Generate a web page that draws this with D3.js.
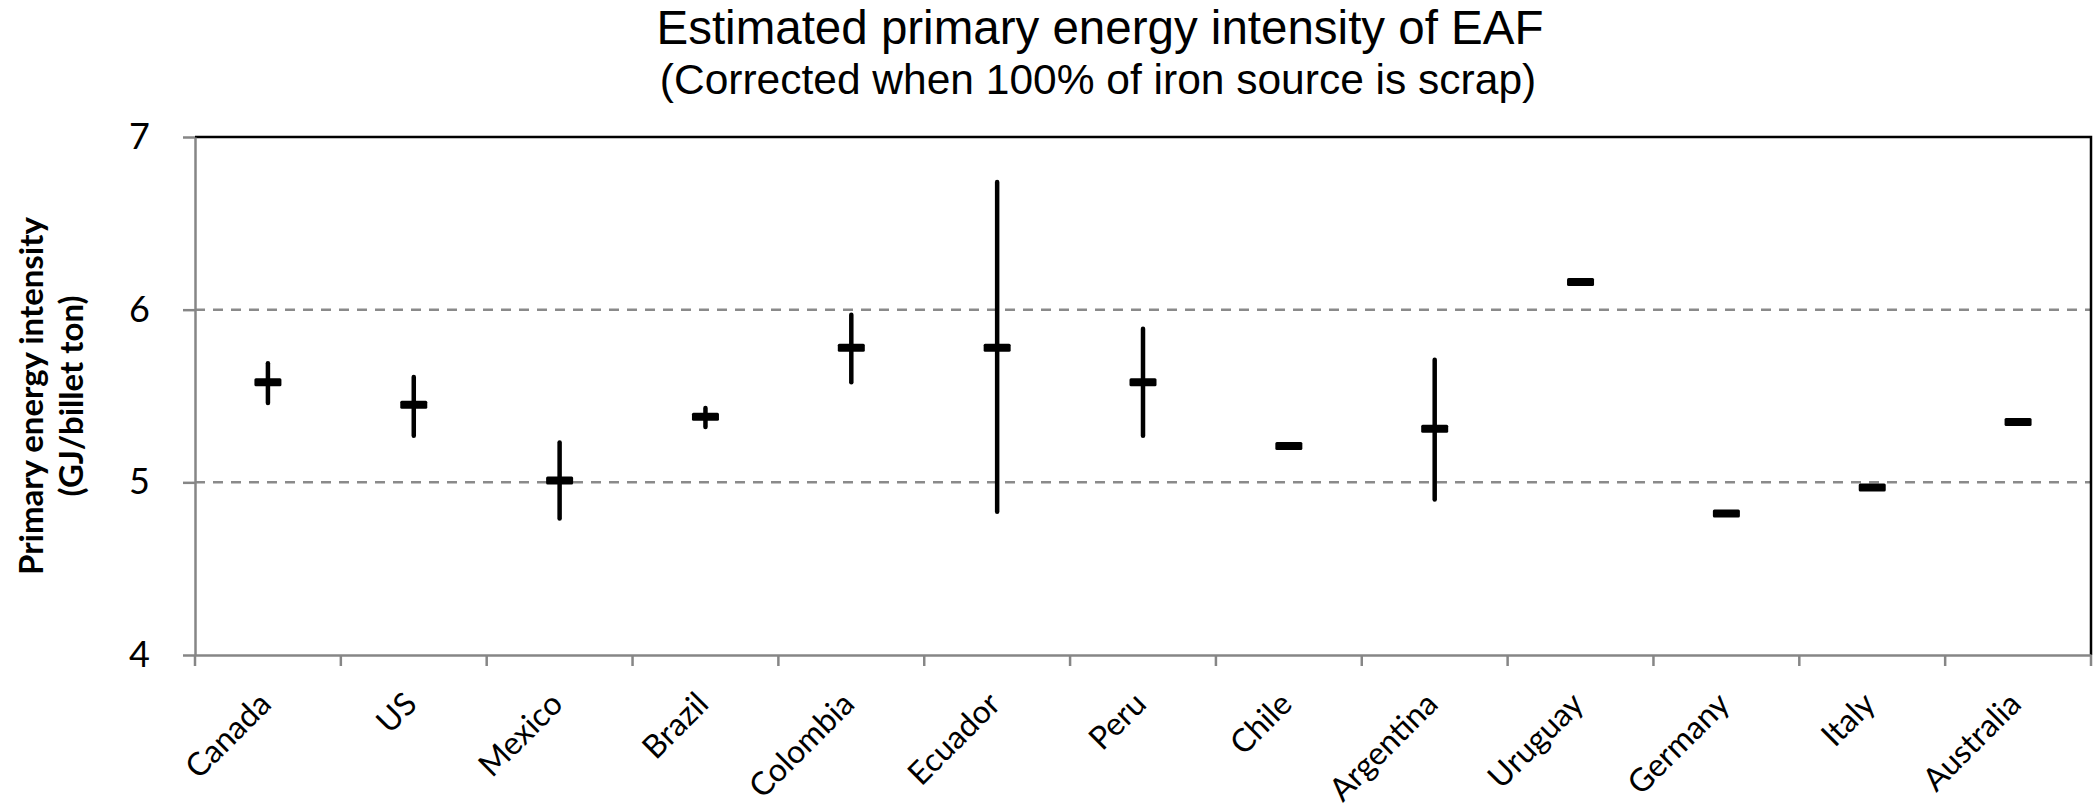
<!DOCTYPE html>
<html>
<head>
<meta charset="utf-8">
<script src="https://cdn.jsdelivr.net/npm/d3@7"></script>
<style>
  body { margin: 0; background: #fff; }
  svg { display: block; }
</style>
</head>
<body>
<svg id="chart"></svg>
<script>
// data
var countries = ["Canada", "US", "Mexico", "Brazil", "Colombia", "Ecuador", "Peru", "Chile", "Argentina", "Uruguay", "Germany", "Italy", "Australia"];
var intensity = [5.58, 5.45, 5.01, 5.38, 5.78, 5.78, 5.58, 5.21, 5.31, 6.16, 4.82, 4.97, 5.35];
var highValues = [5.69, 5.61, 5.23, 5.43, 5.97, 6.74, 5.89, null, 5.71, null, null, null, null];
var lowValues = [5.46, 5.27, 4.79, 5.32, 5.58, 4.83, 5.27, null, 4.90, null, null, null, null];
var yTicks = [4, 5, 6, 7];
var gridValues = [5, 6];

var svgWidth = 2095, svgHeight = 808;
var plotLeft = 195, plotRight = 2091, plotTop = 137, plotBottom = 655;

var svg = d3.select("#chart")
    .attr("width", svgWidth)
    .attr("height", svgHeight);

var x = d3.scaleBand().domain(countries).range([plotLeft, plotRight]).padding(0);
var y = d3.scaleLinear().domain([4, 7]).range([plotBottom, plotTop]);

var labelFont = "Lato, 'Open Sans', sans-serif";
var titleFont = "'Liberation Sans', Arial, sans-serif";

// titles
svg.append("text")
    .attr("x", 1100).attr("y", 44)
    .attr("text-anchor", "middle")
    .style("font-family", titleFont).style("font-size", "47.5px")
    .text("Estimated primary energy intensity of EAF");
svg.append("text")
    .attr("x", 1098).attr("y", 94)
    .attr("text-anchor", "middle")
    .style("font-family", titleFont).style("font-size", "42.5px")
    .text("(Corrected when 100% of iron source is scrap)");

// gridlines
svg.selectAll("line.grid")
    .data(gridValues)
    .enter()
    .append("line")
    .attr("class", "grid")
    .attr("x1", plotLeft).attr("x2", plotRight)
    .attr("y1", function(d) { return y(d); })
    .attr("y2", function(d) { return y(d); })
    .attr("stroke", "#8a8a8a")
    .attr("stroke-width", 2.5)
    .attr("stroke-dasharray", "10,8");

// plot frame (top + right)
svg.append("path")
    .attr("d", "M" + plotLeft + "," + y(7) + "H" + plotRight + "V" + y(4))
    .attr("fill", "none")
    .attr("stroke", "#000")
    .attr("stroke-width", 2.5);

// y axis
var yAxis = svg.append("g")
    .attr("transform", "translate(" + plotLeft + ",0)")
    .call(d3.axisLeft(y).tickValues(yTicks).tickFormat(d3.format("d"))
        .tickSize(12).tickSizeOuter(0).tickPadding(33));
yAxis.select(".domain").attr("stroke", "#868686").attr("stroke-width", 2.5);
yAxis.selectAll(".tick line").attr("stroke", "#868686").attr("stroke-width", 2.5);
yAxis.selectAll(".tick text")
    .style("font-family", labelFont).style("font-size", "36px").attr("fill", "#000");

// x axis: labels at band centres, ticks at band edges
var xAxis = svg.append("g")
    .attr("transform", "translate(0," + plotBottom + ")")
    .call(d3.axisBottom(x).tickSize(0).tickSizeOuter(0).tickFormat(""));
xAxis.select(".domain").attr("stroke", "#868686").attr("stroke-width", 2.5);

var edges = countries.map(function(c) { return x(c); }).concat([x.range()[1]]);
xAxis.selectAll("line.edge")
    .data(edges)
    .enter()
    .append("line")
    .attr("class", "edge")
    .attr("x1", function(d) { return d; }).attr("x2", function(d) { return d; })
    .attr("y1", 0).attr("y2", 11)
    .attr("stroke", "#868686")
    .attr("stroke-width", 2.5);

svg.selectAll("text.cat")
    .data(countries)
    .enter()
    .append("text")
    .attr("class", "cat")
    .attr("transform", function(d) {
        return "translate(" + (x(d) + x.bandwidth() / 2 + 5) + "," + (plotBottom + 51) + ") rotate(-45)";
    })
    .attr("text-anchor", "end")
    .style("font-family", labelFont).style("font-size", "32px")
    .text(function(d) { return d; });

// y axis title
var yTitle = svg.append("text")
    .attr("transform", "translate(0," + ((plotTop + plotBottom) / 2) + ") rotate(-90)")
    .attr("text-anchor", "middle")
    .style("font-family", labelFont).style("font-size", "33px").style("font-weight", "bold");
yTitle.append("tspan").attr("x", 0).attr("y", 43).text("Primary energy intensity");
yTitle.append("tspan").attr("x", 0).attr("y", 83).text("(GJ/billet ton)");

// error bars
var rows = countries.map(function(c, i) {
    return { name: c, value: intensity[i], high: highValues[i], low: lowValues[i] };
});

svg.selectAll("line.err")
    .data(rows.filter(function(d) { return d.high != null; }))
    .enter()
    .append("line")
    .attr("class", "err")
    .attr("x1", function(d) { return x(d.name) + x.bandwidth() / 2; })
    .attr("x2", function(d) { return x(d.name) + x.bandwidth() / 2; })
    .attr("y1", function(d) { return y(d.high); })
    .attr("y2", function(d) { return y(d.low); })
    .attr("stroke", "#000")
    .attr("stroke-width", 4.5)
    .attr("stroke-linecap", "round");

// dash markers
svg.selectAll("rect.mark")
    .data(rows)
    .enter()
    .append("rect")
    .attr("class", "mark")
    .attr("x", function(d) { return x(d.name) + x.bandwidth() / 2 - 13.5; })
    .attr("y", function(d) { return y(d.value) - 4; })
    .attr("width", 27)
    .attr("height", 8)
    .attr("rx", 1.5)
    .attr("fill", "#000");
</script>
</body>
</html>
